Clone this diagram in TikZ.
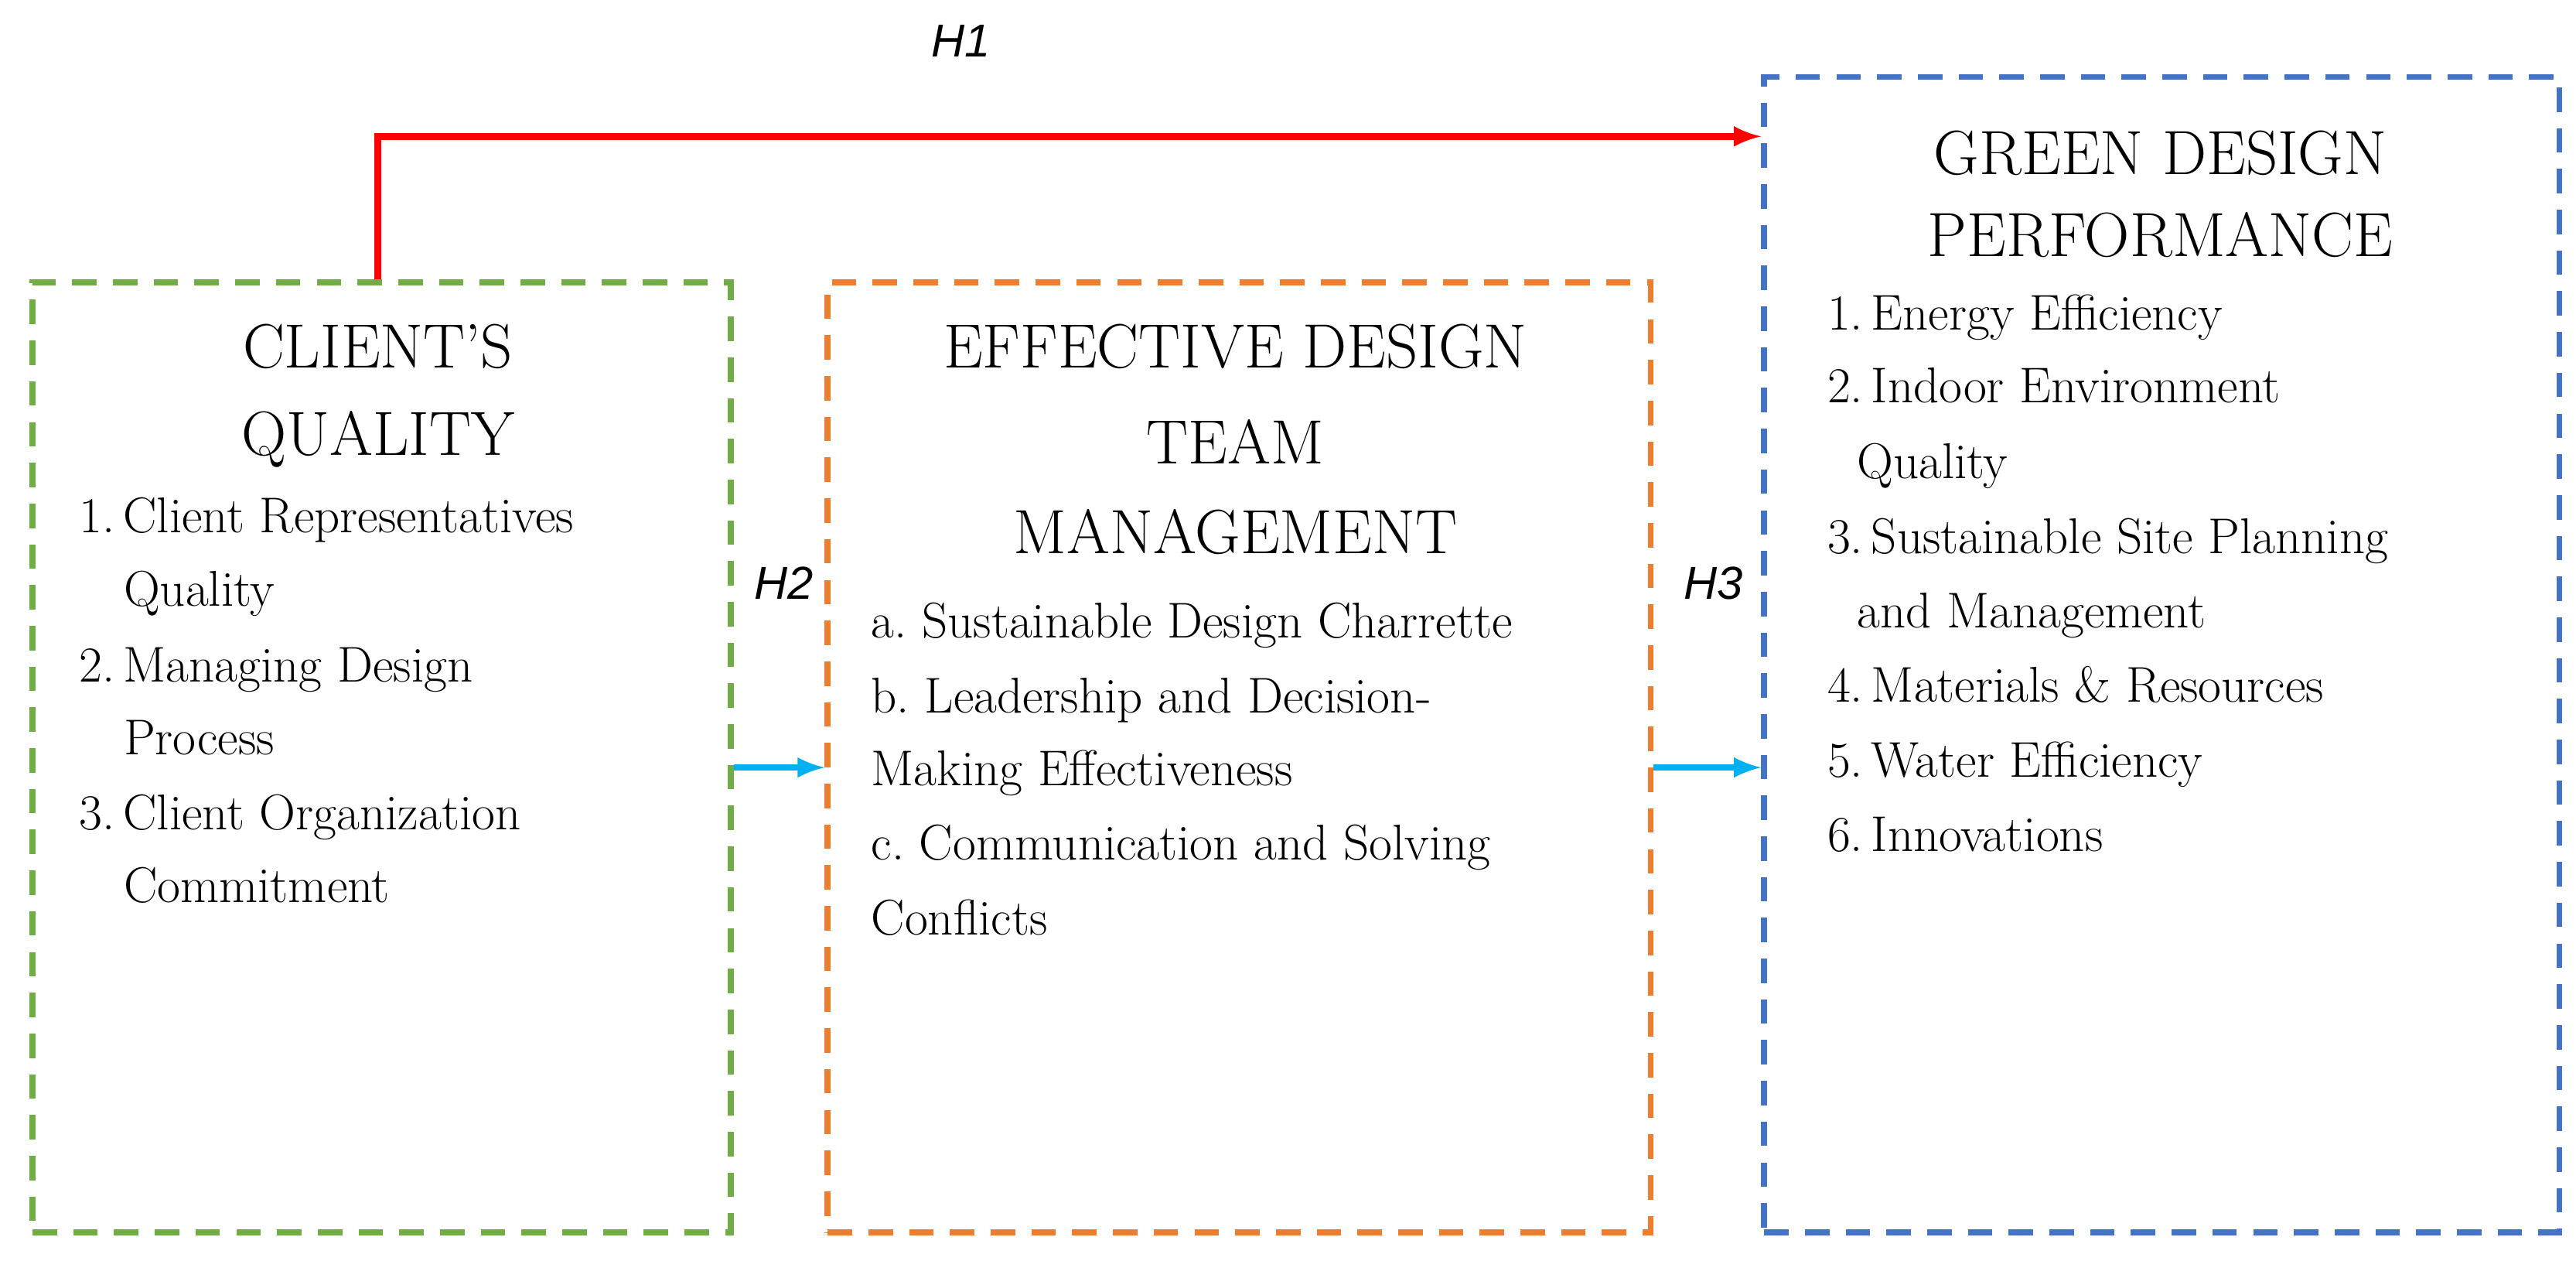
\documentclass[tikz,border=0pt]{standalone}
\usepackage{fontspec}
\newfontfamily\hfont{Liberation Sans}
\begin{document}
\begin{tikzpicture}[x=0.02125cm,y=-0.02125cm,
  box/.style={draw,dashed,line width=2.2pt,dash pattern=on 9pt off 6pt},
  ttl/.style={font=\fontsize{23}{30}\selectfont,anchor=base,inner sep=0},
  itm/.style={font=\fontsize{18.5}{24}\selectfont,anchor=base west,inner sep=0},
  hl/.style={font=\hfont\itshape\fontsize{17}{20}\selectfont,inner sep=0},
  arr/.style={line width=2.4pt,-{latex}}]
\useasboundingbox (0,0) rectangle (1568,767);
\definecolor{gr}{RGB}{112,173,71}
\definecolor{or}{RGB}{237,125,49}
\definecolor{bl}{RGB}{68,114,196}
\definecolor{cy}{RGB}{0,176,240}
\node[box,draw=gr,minimum width=425*0.02125cm,minimum height=578*0.02125cm,anchor=north west] (cq) at (18,170) {};
\node[box,draw=or,minimum width=501*0.02125cm,minimum height=578*0.02125cm,anchor=north west] (ed) at (502,170) {};
\node[box,draw=bl,minimum width=484*0.02125cm,minimum height=703*0.02125cm,anchor=north west] (gd) at (1072,45) {};
% titles
\node[ttl] (t1) at (230,224) {CLIENT'S};
\node[ttl] (t2) at (230,277) {QUALITY};
\node[ttl] (t3) at (752,224) {EFFECTIVE DESIGN};
\node[ttl] (t4) at (752,282) {TEAM};
\node[ttl] (t5) at (752,337) {MANAGEMENT};
\node[ttl] (t6) at (1315,106) {GREEN DESIGN};
\node[ttl] (t7) at (1315,156) {PERFORMANCE};
% green list
\node[itm] (a1) at (48,324) {1.\,Client Representatives};
\node[itm] (a2) at (75,369) {Quality};
\node[itm] (a3) at (48,415) {2.\,Managing Design};
\node[itm] (a4) at (75,459) {Process};
\node[itm] (a5) at (48,505) {3.\,Client Organization};
\node[itm] (a6) at (75,549) {Commitment};
% orange list
\node[itm] (b1) at (530,388) {a.\ Sustainable Design Charrette};
\node[itm] (b2) at (530,434) {b.\ Leadership and Decision-};
\node[itm] (b3) at (530,478) {Making Effectiveness};
\node[itm] (b4) at (530,523) {c.\ Communication and Solving};
\node[itm] (b5) at (530,569) {Conflicts};
% blue list
\node[itm] (c1) at (1112,201) {1.\,Energy Efficiency};
\node[itm] (c2) at (1112,245) {2.\,Indoor Environment};
\node[itm] (c3) at (1130,291) {Quality};
\node[itm] (c4) at (1112,337) {3.\,Sustainable Site Planning};
\node[itm] (c5) at (1130,382) {and Management};
\node[itm] (c6) at (1112,427) {4.\,Materials \& Resources};
\node[itm] (c7) at (1112,473) {5.\,Water Efficiency};
\node[itm] (c8) at (1112,518) {6.\,Innovations};
% arrows
\coordinate (up) at (230,83);
\coordinate (r1) at (cq.north -| up);
\draw[arr,red] (r1) -- (up) -- (gd.west |- up);
\node[hl] (h1) at (585,25) {H1};
\coordinate (s2) at (cq.east |- 0,467);
\draw[arr,cy] (s2) -- (ed.west |- s2);
\node[hl] (h2) at (477,355) {H2};
\coordinate (s3) at (ed.east |- 0,467);
\draw[arr,cy] (s3) -- (gd.west |- s3);
\node[hl] (h3) at (1043,355) {H3};
\end{tikzpicture}
\end{document}
